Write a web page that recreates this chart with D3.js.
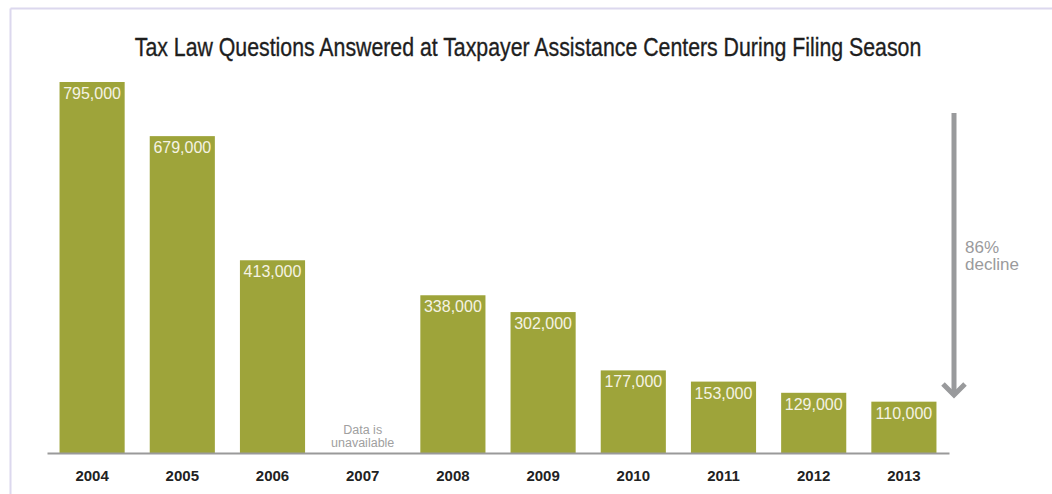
<!DOCTYPE html>
<html><head><meta charset="utf-8">
<script src="https://cdn.jsdelivr.net/npm/d3@7"></script>
<style>body{margin:0;background:#fff}svg{display:block}</style>
</head><body>
<svg id="c" width="1052" height="494"></svg>
<script>
const years = ["2004","2005","2006","2007","2008","2009","2010","2011","2012","2013"];
const values = [795000, 679000, 413000, null, 338000, 302000, 177000, 153000, 129000, 110000];
const title = "Tax Law Questions Answered at Taxpayer Assistance Centers During Filing Season";
const missingText = ["Data is", "unavailable"];
const annotation = ["86%", "decline"];

const svg = d3.select("#c");
// frame
svg.append("line").attr("x1",10.5).attr("x2",1052).attr("y1",8.5).attr("y2",8.5).attr("stroke","#dcd8ee").attr("stroke-width",2);
svg.append("line").attr("x1",10.5).attr("x2",10.5).attr("y1",8.5).attr("y2",494).attr("stroke","#dcd8ee").attr("stroke-width",2);

const x = d3.scaleBand().domain(years).range([47, 949]).paddingInner(0.278).paddingOuter(0.139);
const y = d3.scaleLinear().domain([0, 795000]).range([453, 82]);

const tg = svg.append("g");
const t = tg.append("text").attr("x", 0).attr("y", 0).attr("text-anchor","middle")
  .attr("font-family","'Liberation Sans',Arial,sans-serif")
  .attr("font-size",26).attr("fill","#1e1e1e").attr("stroke","#1e1e1e").attr("stroke-width",0.35)
  .text(title);
const tw = t.node().getComputedTextLength();
tg.attr("transform", `translate(528,56) scale(${787/tw},1)`);

const fmt = d3.format(",");
const data = years.map((yr,i)=>({yr, v: values[i]}));
const g = svg.append("g");
g.selectAll("rect").data(data.filter(d=>d.v!=null)).join("rect")
  .attr("x", d=>x(d.yr)).attr("width", x.bandwidth())
  .attr("y", d=>y(d.v)).attr("height", d=>y(0)-y(d.v)).attr("fill","#9ea43a");
g.selectAll("text.val").data(data.filter(d=>d.v!=null)).join("text").attr("class","val")
  .attr("x", d=>x(d.yr)+x.bandwidth()/2).attr("y", d=>y(d.v)+17)
  .attr("text-anchor","middle").attr("font-family","'Liberation Sans',Arial,sans-serif")
  .attr("font-size",16).attr("fill","#f5f3e4").text(d=>fmt(d.v));

// missing note
const m = data.find(d=>d.v==null);
missingText.forEach((s,i)=>{
  svg.append("text").attr("x", x(m.yr)+x.bandwidth()/2).attr("y", 434+i*13)
    .attr("text-anchor","middle").attr("font-family","'Liberation Sans',Arial,sans-serif")
    .attr("font-size",12.5).attr("fill","#a0a0a0").text(s);
});

// axis
const ax = svg.append("g").attr("transform","translate(0,453)")
  .call(d3.axisBottom(x).tickSize(0).tickPadding(17));
ax.select(".domain").attr("stroke","#9a9a9a").attr("stroke-width",2);
ax.selectAll("text").attr("font-family","'Liberation Sans',Arial,sans-serif")
  .attr("font-size",15).attr("font-weight","bold").attr("fill","#222");

// arrow
const ay = d3.scaleLinear().domain([795000, 110000]).range([113, 396]);
svg.append("line").attr("x1",954).attr("x2",954).attr("y1",ay(795000)).attr("y2",ay(110000)-3)
  .attr("stroke","#999a9c").attr("stroke-width",5);
svg.append("path").attr("d",`M943,${ay(110000)-12} L954,${ay(110000)-1} L965,${ay(110000)-12}`)
  .attr("fill","none").attr("stroke","#999a9c").attr("stroke-width",5);
annotation.forEach((s,i)=>{
  svg.append("text").attr("x",965).attr("y",253+i*17)
    .attr("font-family","'Liberation Sans',Arial,sans-serif").attr("font-size",17)
    .attr("fill","#9a9a9c").text(s);
});
</script>
</body></html>
